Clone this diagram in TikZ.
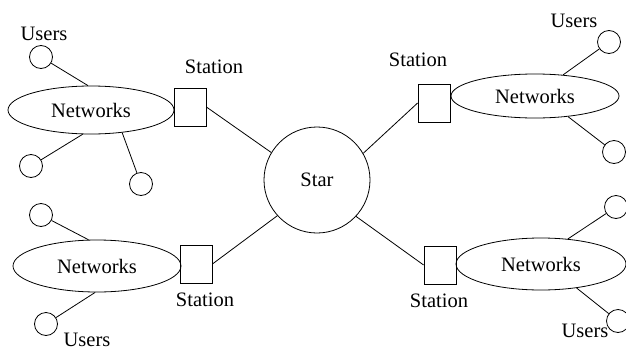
\documentclass[tikz,border=0pt]{standalone}
\usepackage{fontspec}
\setmainfont{Liberation Serif}
\usetikzlibrary{shapes.geometric}
\begin{document}
\begin{tikzpicture}[x=1pt,y=-1pt,
  every node/.style={font=\fontsize{20.5}{24}\selectfont},
  net/.style={draw,ellipse,inner sep=0pt,line width=0.8pt},
  stationbox/.style={draw,rectangle,inner sep=0pt,minimum width=32pt,minimum height=38pt,line width=0.8pt},
  user/.style={draw,circle,inner sep=0pt,minimum size=23pt,line width=0.8pt},
  hub/.style={draw,circle,inner sep=0pt,minimum size=106pt,line width=0.8pt},
  lbl/.style={inner sep=0pt},
  link/.style={line width=0.8pt}]
\useasboundingbox (0,0) rectangle (626,351);

% central star coupler
\node[hub] (star) at (317,180) {Star};

% upper left network
\node[net,minimum width=166pt,minimum height=48pt] (n1) at (91,110) {Networks};
\node[stationbox] (s1) at (190,107) {};
\node[lbl] (s1l) at (214,67) {Station};
\node[user] (u1a) at (41,57) {};
\node[lbl] (u1l) at (44,34) {Users};
\node[user] (u1b) at (31,166) {};
\node[user] (u1c) at (141,184) {};

% upper right network
\node[net,minimum width=168pt,minimum height=44pt] (n2) at (535,96) {Networks};
\node[stationbox] (s2) at (434,103) {};
\node[lbl] (s2l) at (418,60) {Station};
\node[user] (u2a) at (609,42) {};
\node[lbl] (u2l) at (574,21) {Users};
\node[user] (u2b) at (614,152) {};

% lower left network
\node[net,minimum width=168pt,minimum height=52pt] (n3) at (97,266) {Networks};
\node[stationbox] (s3) at (196,264) {};
\node[lbl] (s3l) at (205,300) {Station};
\node[user] (u3a) at (41,215) {};
\node[user] (u3b) at (46,324) {};
\node[lbl] (u3l) at (87,340) {Users};

% lower right network
\node[net,minimum width=170pt,minimum height=52pt] (n4) at (541,264) {Networks};
\node[stationbox] (s4) at (440,265) {};
\node[lbl] (s4l) at (439,301) {Station};
\node[user] (u4a) at (616,207) {};
\node[user] (u4b) at (618,321) {};
\node[lbl] (u4l) at (585,331) {Users};

% stations to the star
\draw[link] (s1.east) -- (star.149);
\draw[link] (star.30) -- (s2.west);
\draw[link] (s3.east) -- (star.222);
\draw[link] (star.317) -- (s4.west);

% users to their networks
\draw[link] (u1a) -- (n1.97);
\draw[link] (u1b) -- (n1.251);
\draw[link] (u1c) -- (n1.324);
\draw[link] (u2a) -- (n2.37);
\draw[link] (u2b) -- (n2.-32);
\draw[link] (u3a) -- (n3.108);
\draw[link] (u3b) -- (n3.266);
\draw[link] (u4a) -- (n4.43);
\draw[link] (u4b) -- (n4.-34);
\end{tikzpicture}
\end{document}
